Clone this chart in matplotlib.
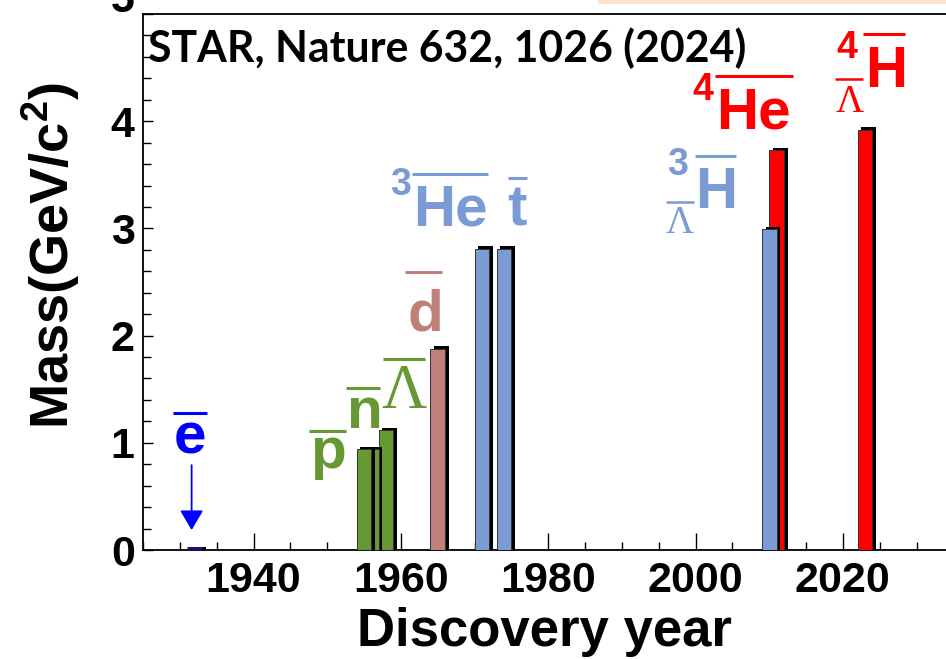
import numpy as np
import matplotlib
matplotlib.use("Agg")
import matplotlib.pyplot as plt
from matplotlib.ticker import MultipleLocator

# antiparticles / antinuclei: discovery year and mass (GeV/c^2)
particles = ["e", "p", "n", "Lambda", "d", "He3", "t", "H3L", "He4", "H4L"]
years = np.array([1932, 1955, 1956, 1958, 1965, 1971, 1974, 2010, 2011, 2023])
masses = np.array([0.000511, 0.938, 0.940, 1.116, 1.876, 2.808, 2.809, 2.991, 3.728, 3.922])
y_ticks = [0, 1, 2, 3, 4]

green = "#669933"
lblue = "#7b9bd4"
brown = "#c0807a"
red = "#ff0000"
navy = "#10108a"
bar_colors = [navy, green, green, green, brown, lblue, lblue, lblue, red, red]
edge_colors = [navy] + ["#333333"] * 9
edge_widths = [5] + [0.7] * 9

plt.rcParams["font.family"] = "Liberation Sans"
plt.rcParams["font.weight"] = "bold"
plt.rcParams["mathtext.fontset"] = "custom"
plt.rcParams["mathtext.rm"] = "Liberation Sans:bold"
plt.rcParams["mathtext.bf"] = "Liberation Sans:bold"

fig = plt.figure(figsize=(9.46, 6.59), dpi=100)
ax = fig.add_axes([143 / 946, 1 - 550 / 659, 803 / 946, 536 / 659])

# bars with a black drop shadow, earlier bars drawn on top
n = len(years)
for i in range(n):
    z = 2 + (n - i) * 2
    ax.bar(years[i] + 0.5, masses[i] + 0.025, width=2, color="black",
           linewidth=0, zorder=z)
    ax.bar(years[i], masses[i], width=2, color=bar_colors[i],
           edgecolor=edge_colors[i], linewidth=edge_widths[i], zorder=z + 1)

ax.set_xlim(1925, 2034)
ax.set_ylim(0, 5)
ax.xaxis.set_major_locator(MultipleLocator(20))
ax.xaxis.set_minor_locator(MultipleLocator(5))
ax.set_yticks(y_ticks + [5])
ax.set_yticklabels([str(t) for t in y_ticks] + [""])
ax.yaxis.set_minor_locator(MultipleLocator(0.2))
ax.tick_params(axis="x", which="major", direction="in", length=12, width=1, labelsize=31, pad=8)
ax.tick_params(axis="x", which="minor", direction="in", length=6, width=1)
ax.tick_params(axis="y", which="major", direction="in", length=7, width=1, labelsize=31, pad=6)
ax.tick_params(axis="y", which="minor", direction="in", length=6, width=1)
for lab in ax.get_xticklabels() + ax.get_yticklabels():
    lab.set_fontweight("bold")
ax.spines["right"].set_visible(False)
for s in ["left", "bottom", "top"]:
    ax.spines[s].set_linewidth(1.3)

# top label "5" sits partly above the figure edge, as in the cropped original
ax.annotate("5", xy=(0, 5), xycoords=("axes fraction", "data"), xytext=(-6, 9),
            textcoords="offset points", ha="right", va="center", fontsize=31,
            fontweight="bold", annotation_clip=False)

ax.set_xlabel("Discovery year", fontsize=38, fontweight="bold", labelpad=4)
ax.set_ylabel("Mass(GeV/c$^{2}$)", fontsize=39, fontweight="bold")
ax.yaxis.set_label_coords(-0.076, 0.55)

ax.text(1925.7, 4.548, "STAR, Nature 632, 1026 (2024)", fontsize=30.8,
        family="Lato", fontweight="bold", ha="left", va="baseline", zorder=40)

big = 42
sup = 27
serif = "Liberation Serif"

def bar_over(x0, x1, y, color, lw=2.2):
    ax.plot([x0, x1], [y, y], color=color, lw=lw, clip_on=False, zorder=40,
            solid_capstyle="butt")

def label(x, y, s, color, size=big, family="Liberation Sans", weight="bold"):
    ax.text(x, y, s, color=color, fontsize=size, family=family, fontweight=weight,
            ha="center", va="baseline", zorder=40, clip_on=False)

# positron
label(1931.4, 0.904, "e", "#0000ff")
bar_over(1929.1, 1933.7, 1.277, "#0000ff")
ax.annotate("", xy=(1931.6, 0.186), xytext=(1931.6, 0.792),
            arrowprops=dict(arrowstyle="-|>,head_length=0.61,head_width=0.36",
                            mutation_scale=20, color="#0000ff", lw=1.3, shrinkA=0, shrinkB=0),
            zorder=40)

# antiproton, antineutron, antilambda
label(1950.1, 0.764, "p", green)
bar_over(1947.5, 1952.5, 1.109, green)
label(1955.1, 1.137, "n", green)
bar_over(1952.5, 1957.2, 1.510, green)
label(1960.4, 1.323, "Λ", green, size=45, family=serif, weight="normal")
bar_over(1957.6, 1963.3, 1.780, green)

# antideuteron
label(1963.3, 2.05, "d", brown)
bar_over(1960.5, 1965.6, 2.59, brown)

# antihelium-3 and antitriton
label(1960.0, 3.308, "3", lblue, size=sup)
label(1966.7, 3.029, "He", lblue)
bar_over(1961.5, 1971.8, 3.504, lblue)
label(1975.7, 3.029, "t", lblue)
bar_over(1974.5, 1977.1, 3.467, lblue)

# antihypertriton
label(1997.5, 3.495, "3", lblue, size=sup)
label(2002.8, 3.187, "H", lblue)
bar_over(1999.9, 2005.5, 3.672, lblue)
label(1997.9, 2.954, "Λ", lblue, size=28, family=serif, weight="normal")
bar_over(1996.0, 1999.8, 3.243, lblue, lw=1.8)

# antihelium-4
label(2001.0, 4.194, "4", red, size=sup)
label(2007.8, 3.933, "He", red)
bar_over(2002.6, 2013.2, 4.417, red)

# antihyperhydrogen-4
label(2020.5, 4.585, "4", red, size=sup)
label(2025.9, 4.315, "H", red)
bar_over(2022.7, 2028.5, 4.818, red)
label(2020.9, 4.082, "Λ", red, size=28, family=serif, weight="normal")
bar_over(2018.9, 2022.8, 4.390, red, lw=1.8)

# faint slide edge at the very top
fig.add_artist(plt.Line2D([600 / 946, 1.0], [0.997, 0.997], color="#fbe3cf", lw=3))

fig.savefig("out.png", dpi=100)
